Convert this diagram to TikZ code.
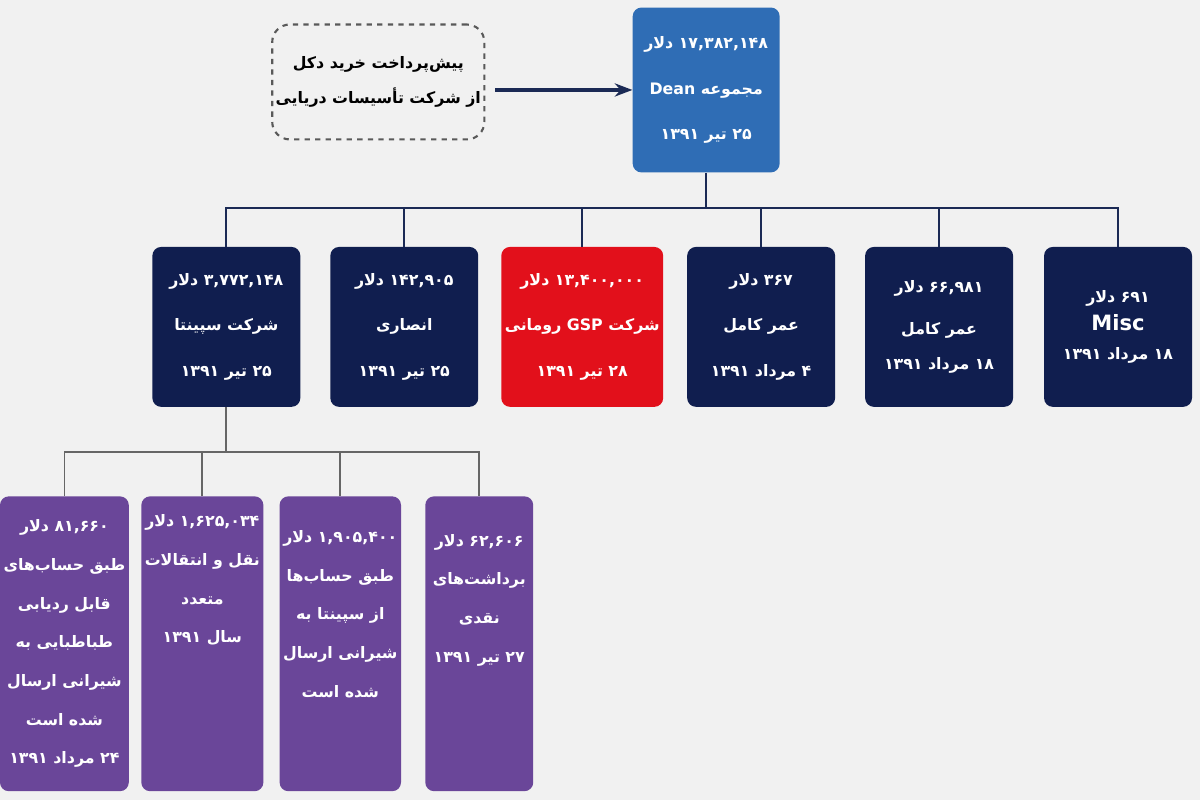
\documentclass[tikz,border=0pt]{standalone}
\usepackage{fontspec}
\newfontfamily\arabicfont[Script=Arabic]{DejaVu Sans}
\TeXXeTstate=1
\usetikzlibrary{arrows.meta}
\definecolor{topblue}{HTML}{2F6DB5}
\definecolor{navy}{HTML}{101E4F}
\definecolor{gspred}{HTML}{E2101B}
\definecolor{violet}{HTML}{6A4699}
\definecolor{bg}{HTML}{F1F1F1}
\definecolor{wire}{HTML}{1B2A55}
\newcommand\fa[1]{\beginR #1\endR}
\newcommand\la[1]{\beginL #1\endL{}}
\tikzset{
  box/.style = {rounded corners = 5pt, text = white, align = center,
    font = \arabicfont\bfseries\fontsize{9}{12}\selectfont, inner sep = 2pt},
  rowbox/.style = {box, fill = navy, minimum width = 2.96cm, minimum height = 3.2cm},
  subbox/.style = {box, fill = violet, minimum width = 2.16cm, minimum height = 5.9cm},
  wireline/.style = {draw = wire, line width = 1.3pt}
}
\begin{document}
\begin{tikzpicture}[x = 0.02cm, y = -0.02cm]
\fill[bg] (0, 0) rectangle (1200, 800);
% Top
\node[box, fill = topblue, minimum width = 2.94cm, minimum height = 3.3cm] (dean) at (706, 90)
  {\fa{\la{۱۷,۳۸۲,۱۴۸} دلار}\\[14pt] \fa{مجموعه \la{Dean}}\\[14pt] \fa{\la{۲۵} تیر \la{۱۳۹۱}}};
\node[box, text = black, draw = black!65, dashed, line width = 1.2pt, minimum width = 4.06cm,
  minimum height = 2.3cm, rounded corners = 10pt] (mast) at (378, 82)
  {\fa{پیش‌پرداخت خرید دکل}\\[8pt] \fa{از شرکت تأسیسات دریایی}};
\draw[wire, line width = 2.5pt, -{Stealth[length = 10pt]}] (mast.east) ++(10, 8) coordinate (a0) -- (a0 -| dean.west);
% Second row
\node[rowbox] (sepinta) at (226, 327)
  {\fa{\la{۳,۷۷۲,۱۴۸} دلار}\\[14pt] \fa{شرکت سپینتا}\\[14pt] \fa{\la{۲۵} تیر \la{۱۳۹۱}}};
\node[rowbox] (ansari) at (404, 327)
  {\fa{\la{۱۴۲,۹۰۵} دلار}\\[14pt] \fa{انصاری}\\[14pt] \fa{\la{۲۵} تیر \la{۱۳۹۱}}};
\node[rowbox, fill = gspred] (gsp) at (582, 327)
  {\fa{\la{۱۳,۴۰۰,۰۰۰} دلار}\\[14pt] \fa{شرکت \la{GSP} رومانی}\\[14pt] \fa{\la{۲۸} تیر \la{۱۳۹۱}}};
\node[rowbox] (omar1) at (761, 327)
  {\fa{\la{۳۶۷} دلار}\\[14pt] \fa{عمر کامل}\\[14pt] \fa{\la{۴} مرداد \la{۱۳۹۱}}};
\node[rowbox] (omar2) at (939, 327)
  {\fa{\la{۶۶,۹۸۱} دلار}\\[12pt] \fa{عمر کامل}\\[8pt] \fa{\la{۱۸} مرداد \la{۱۳۹۱}}};
\node[rowbox] (misc) at (1118, 327)
  {\fa{\la{۶۹۱} دلار}\\[4pt] {\fontsize{12}{14}\selectfont Misc}\\[4pt] \fa{\la{۱۸} مرداد \la{۱۳۹۱}}};
\coordinate (bus1) at (706, 208);
\draw[wireline] (dean.south) -- (bus1);
\draw[wireline] (sepinta.north) |- (bus1) -| (misc.north);
\foreach \n in {ansari, gsp, omar1, omar2}
  \draw[wireline] (\n.north) -- (\n.north |- bus1);
% Third row
\node[subbox] (track) at (64, 644)
  {\fa{\la{۸۱,۶۶۰} دلار}\\[10pt] \fa{طبق حساب‌های}\\[10pt] \fa{قابل ردیابی}\\[10pt] \fa{طباطبایی به}\\[10pt]
   \fa{شیرانی ارسال}\\[10pt] \fa{شده است}\\[10pt] \fa{\la{۲۴} مرداد \la{۱۳۹۱}}};
\node[subbox] (transfer) at (202, 644)
  {\fa{\la{۱,۶۲۵,۰۳۴} دلار}\\[10pt] \fa{نقل و انتقالات}\\[10pt] \fa{متعدد}\\[10pt] \fa{سال \la{۱۳۹۱}}\\[62pt]};
\node[subbox] (accounts) at (340, 644)
  {\fa{\la{۱,۹۰۵,۴۰۰} دلار}\\[10pt] \fa{طبق حساب‌ها}\\[10pt] \fa{از سپینتا به}\\[10pt] \fa{شیرانی ارسال}\\[10pt] \fa{شده است}\\[22pt]};
\node[subbox] (cash) at (479, 644)
  {\fa{\la{۶۲,۶۰۶} دلار}\\[10pt] \fa{برداشت‌های}\\[10pt] \fa{نقدی}\\[10pt] \fa{\la{۲۷} تیر \la{۱۳۹۱}}\\[40pt]};
\coordinate (bus2) at (226, 452);
\draw[wireline, draw = black!60, line width = 1pt] (sepinta.south) -- (bus2);
\draw[draw = black!60, line width = 1pt] (track.north) |- (bus2) -| (cash.north);
\foreach \n in {transfer, accounts}
  \draw[draw = black!60, line width = 1pt] (\n.north) -- (\n.north |- bus2);
\end{tikzpicture}
\end{document}
